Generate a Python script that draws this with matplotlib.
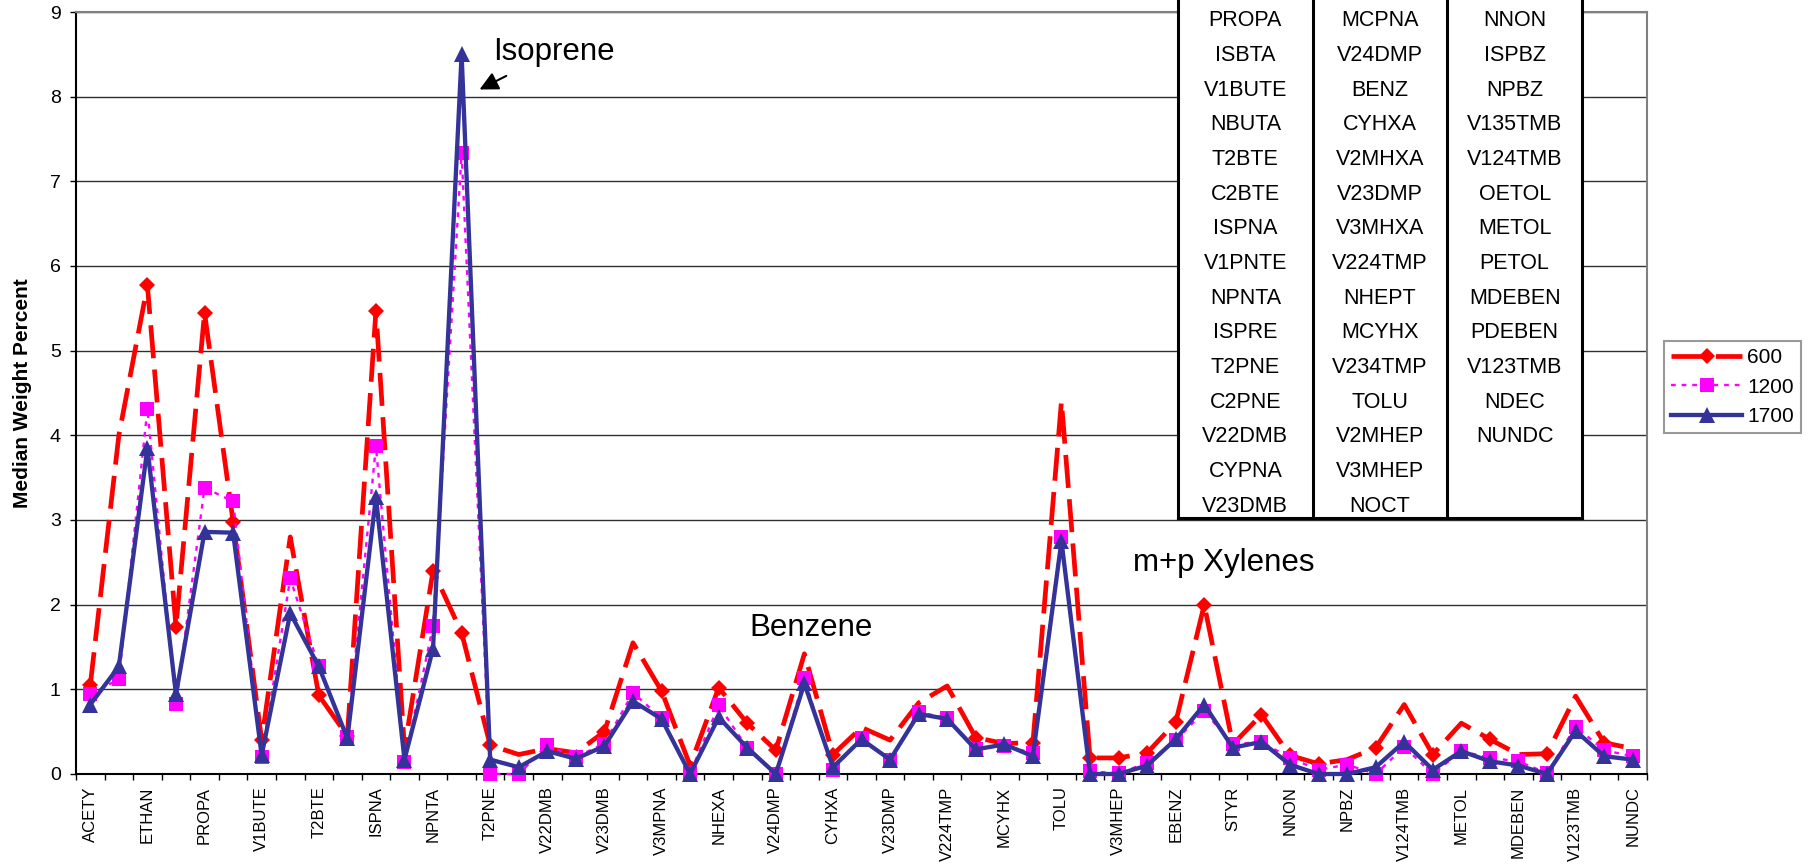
import numpy as np
import matplotlib
matplotlib.use("Agg")
import matplotlib.pyplot as plt

plt.rcParams['font.family'] = ['Liberation Sans', 'DejaVu Sans']

# compound codes, in chart order
categories = ['ACETY', 'ETHE', 'ETHAN', 'PRPE', 'PROPA', 'ISBTA', 'V1BUTE', 'NBUTA',
              'T2BTE', 'C2BTE', 'ISPNA', 'V1PNTE', 'NPNTA', 'ISPRE', 'T2PNE', 'C2PNE',
              'V22DMB', 'CYPNA', 'V23DMB', 'V2MPNA', 'V3MPNA', 'V1HEXE', 'NHEXA', 'MCPNA',
              'V24DMP', 'BENZ', 'CYHXA', 'V2MHXA', 'V23DMP', 'V3MHXA', 'V224TMP', 'NHEPT',
              'MCYHX', 'V234TMP', 'TOLU', 'V2MHEP', 'V3MHEP', 'NOCT', 'EBENZ', 'MPXYL',
              'STYR', 'OXYL', 'NNON', 'ISPBZ', 'NPBZ', 'V135TMB', 'V124TMB', 'OETOL',
              'METOL', 'PETOL', 'MDEBEN', 'PDEBEN', 'V123TMB', 'NDEC', 'NUNDC']

# median weight percent per series
s600 = [1.05, 4.00, 5.77, 1.74, 5.45, 2.98, 0.40, 2.80, 0.93, 0.45,
        5.47, 0.30, 2.40, 1.67, 0.34, 0.23, 0.30, 0.25, 0.50, 1.55,
        0.98, 0.10, 1.02, 0.60, 0.28, 1.42, 0.23, 0.55, 0.40, 0.84,
        1.04, 0.43, 0.36, 0.37, 4.40, 0.19, 0.19, 0.25, 0.61, 2.00,
        0.35, 0.70, 0.22, 0.12, 0.17, 0.31, 0.82, 0.23, 0.60, 0.41,
        0.23, 0.24, 0.92, 0.37, 0.30]
s1200 = [0.94, 1.12, 4.31, 0.83, 3.38, 3.22, 0.20, 2.31, 1.27, 0.44,
         3.87, 0.14, 1.75, 7.33, 0.00, 0.00, 0.34, 0.20, 0.36, 0.96,
         0.66, 0.01, 0.81, 0.31, 0.00, 1.13, 0.05, 0.42, 0.17, 0.73,
         0.66, 0.30, 0.33, 0.25, 2.80, 0.03, 0.01, 0.13, 0.40, 0.74,
         0.35, 0.38, 0.19, 0.05, 0.11, 0.00, 0.32, 0.00, 0.27, 0.19,
         0.15, 0.01, 0.56, 0.28, 0.21]
s1700 = [0.82, 1.27, 3.85, 0.94, 2.86, 2.85, 0.22, 1.90, 1.27, 0.42,
         3.27, 0.17, 1.48, 8.50, 0.17, 0.08, 0.27, 0.18, 0.33, 0.86,
         0.65, 0.00, 0.67, 0.31, 0.00, 1.07, 0.08, 0.41, 0.17, 0.71,
         0.65, 0.29, 0.35, 0.21, 2.75, 0.00, 0.00, 0.10, 0.41, 0.82,
         0.31, 0.38, 0.11, 0.00, 0.00, 0.08, 0.38, 0.05, 0.27, 0.15,
         0.10, 0.00, 0.51, 0.21, 0.17]
series_labels = ['600', '1200', '1700']

# points of the 600 series whose diamond shows in the original
red_marker_idx = [0, 2, 3, 4, 5, 6, 8, 9, 10, 12, 13, 14, 18, 20, 22, 23, 24, 26,
                  31, 33, 35, 36, 37, 38, 39, 41, 42, 43, 45, 47, 49, 51, 53]

# callouts: (text, x, y)
callouts = [('Isoprene', 14.1, 8.43), ('Benzene', 23.06, 1.63), ('m+p Xylenes', 36.5, 2.40)]
arrow_tail = (14.65, 8.26)
arrow_tip = (13.54, 8.07)

x = np.arange(len(categories))

W, H = 1809, 866
fig = plt.figure(figsize=(W / 100, H / 100), dpi=100)
ax = fig.add_axes([76 / W, 92 / H, 1571 / W, 762 / H])

ax.plot(x, s600, color='#FF0000', lw=3.4, dashes=(7.0, 2.4), marker='D', ms=8.5,
        markevery=red_marker_idx, mew=0, clip_on=False, zorder=3, label=series_labels[0])
ax.plot(x, s1200, color='#FF00FF', lw=1.7, dashes=(2, 2.5), marker='s', ms=9.5,
        mew=0, clip_on=False, zorder=4, label=series_labels[1])
ax.plot(x, s1700, color='#333399', lw=3.1, marker='^', ms=12,
        mew=0, clip_on=False, zorder=5, label=series_labels[2])

ax.set_xlim(-0.5, len(categories) - 0.5)
ax.set_ylim(0, 9)
ax.set_yticks(range(10))
ax.yaxis.grid(True, color='#303030', lw=1.0)
ax.set_axisbelow(True)

ax.set_xticks(np.arange(-0.5, len(categories), 1))
ax.set_xticklabels([])
ax.set_xticks(x[::2], labels=categories[::2], minor=True)
ax.tick_params(axis='x', which='major', length=4, width=1, direction='out')
ax.tick_params(axis='x', which='minor', length=0, pad=9, labelsize=12, labelrotation=90)
ax.tick_params(axis='y', length=4, width=1, pad=7, labelsize=14)

for side in ['left', 'bottom']:
    ax.spines[side].set_color('black')
    ax.spines[side].set_linewidth(1.5)
for side in ['top', 'right']:
    ax.spines[side].set_color('#808080')
    ax.spines[side].set_linewidth(1.5)

fig.text(23 / W, (92 + 381) / H, 'Median Weight Percent', rotation=90,
         ha='center', va='center', fontsize=15, fontweight='bold')

for txt, tx, ty in callouts:
    ax.text(tx, ty, txt, fontsize=22.5, ha='left', va='baseline')
ax.annotate('', xy=arrow_tip, xytext=arrow_tail,
            arrowprops=dict(arrowstyle='-|>', color='black', lw=1.5, mutation_scale=28))

handles, labels = ax.get_legend_handles_labels()
leg = fig.legend(handles, labels, loc='upper left', bbox_to_anchor=(1664 / W, 1 - 341 / H),
                 fontsize=15, frameon=True, fancybox=False, edgecolor='#808080',
                 handlelength=3.4, handletextpad=0.25, labelspacing=0.5,
                 borderpad=0.35, borderaxespad=0)
leg.get_frame().set_linewidth(1.5)

# key table of compound codes, cut off at the top of the picture
col_names = [categories[0:19], categories[19:38], categories[38:55]]
first_row = 4
row_pitch = 34.65
top_off = 21
tab_bottom = 518
tab = fig.add_axes([1178 / W, (H - tab_bottom) / H, 404 / W, tab_bottom / H])
y_top = first_row - top_off / row_pitch
tab.set_xlim(0, 3)
tab.set_ylim(y_top + tab_bottom / row_pitch, y_top)
tab.set_facecolor('white')
tab.set_xticks([])
tab.set_yticks([])
tab.spines['top'].set_visible(False)
for side in ['left', 'right', 'bottom']:
    tab.spines[side].set_linewidth(2.2)
    tab.spines[side].set_color('black')
for c in (1, 2):
    tab.axvline(c, color='black', lw=2.2)
for c, names in enumerate(col_names):
    for r, name in enumerate(names):
        if r < first_row:
            continue
        tab.text(c + 0.5, r, name, ha='center', va='center', fontsize=15.5)

fig.savefig('out.png', dpi=100)
